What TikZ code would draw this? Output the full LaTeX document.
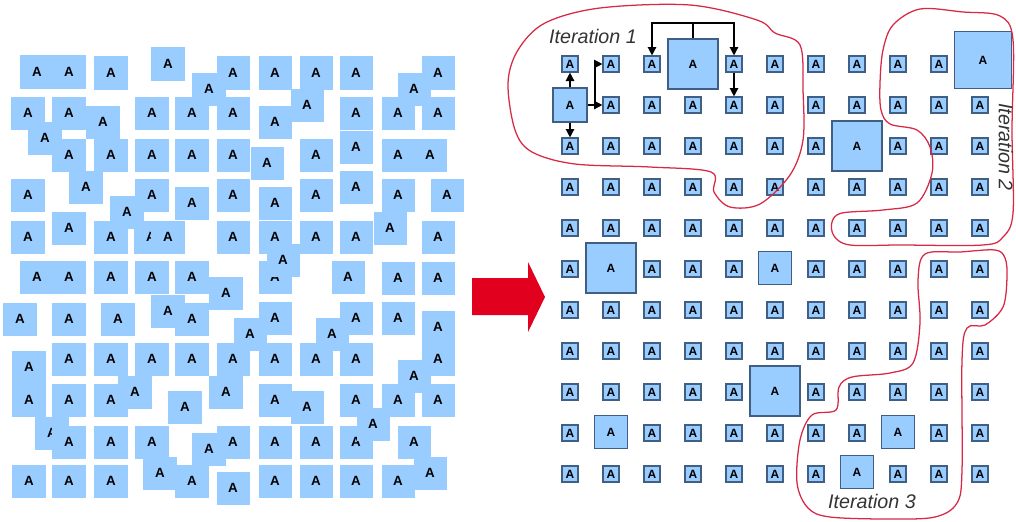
\documentclass[tikz,border=0pt]{standalone}
\usepackage{fontspec}
\setmainfont{Liberation Sans}
\usetikzlibrary{arrows.meta, calc}

\definecolor{tileblue}{RGB}{153,204,255}
\definecolor{tileedge}{RGB}{65,95,130}
\definecolor{loopred}{RGB}{215,40,70}
\definecolor{arrowred}{RGB}{225,0,30}

% cells of the grid that hold a bigger box
\newcommand{\markbig}[2]{\expandafter\def\csname bigcell-#1-#2\endcsname{}}
\markbig{0}{1}\markbig{3}{0}\markbig{10}{0}\markbig{7}{2}\markbig{1}{5}
\markbig{5}{5}\markbig{5}{8}\markbig{1}{9}\markbig{8}{9}\markbig{7}{10}

\begin{document}
\begin{tikzpicture}[x=0.025cm, y=-0.025cm,
    tile/.style={rectangle, fill=tileblue, minimum size=0.825cm, inner sep=0pt, font=\fontsize{9.5}{9.5}\selectfont\bfseries},
    cell/.style={rectangle, fill=tileblue, draw=tileedge, line width=0.8pt, minimum size=0.4cm, inner sep=0pt, font=\fontsize{8.5}{8.5}\selectfont\bfseries},
    bigcell/.style={cell, minimum size=#1},
    iterline/.style={draw=loopred, line width=0.9pt},
    itlabel/.style={font=\fontsize{14}{14}\selectfont\itshape, text=black!80},
    arrow/.style={line width=1pt, -{Triangle[length=6pt, width=6pt]}}
]
\useasboundingbox (0,0) rectangle (1016,521);

% scattered tiles
\foreach \x/\y [count=\n] in {37/72, 69/72, 111/73, 168/64, 209/89, 233/73, 275/73, 316/73, 356/73, 414/89, 438/73, 307/105,
    28/113, 69/113, 103/122, 45/138, 152/113, 192/113, 233/113, 275/122, 356/113, 356/147, 398/113, 438/113,
    69/155, 111/155, 152/155, 192/155, 233/155, 267/163, 316/155, 398/155, 430/155, 86/187,
    28/195, 152/195, 192/203, 233/195, 127/212, 275/203, 316/195, 356/187, 398/195, 447/195,
    28/237, 69/228, 111/237, 151/237, 168/237, 233/237, 275/237, 316/237, 356/237, 390/228, 438/237,
    37/277, 69/277, 111/277, 152/277, 192/277, 226/293, 275/277, 283/260, 348/277, 398/278, 438/278,
    20/319, 69/319, 118/319, 168/311, 192/319, 250/334, 275/318, 332/334, 356/318, 398/318, 438/327,
    29/367, 29/400, 69/359, 111/359, 152/359, 192/359, 233/359, 275/359, 316/359, 356/359, 438/359, 414/376, 135/392, 185/407, 226/392,
    69/400, 111/400, 275/400, 307/407, 356/400, 398/400, 438/400,
    52/433, 69/442, 111/442, 152/442, 160/473, 209/449, 233/442, 275/442, 316/442, 356/442, 373/424, 414/442, 430/473,
    29/481, 69/481, 111/481, 192/481, 233/488, 275/481, 316/481, 356/481, 398/481}
    \node[tile] (t-\n) at (\x,\y) {A};

% red arrow
\fill[arrowred] (472,278) -- (528,278) -- (528,262) -- (545,297) -- (528,332) -- (528,315) -- (472,315) -- cycle;

% regular grid
\foreach \i in {0,...,10}
  \foreach \j in {0,...,10}{
    \ifcsname bigcell-\i-\j\endcsname\else
      \node[cell] (g-\i-\j) at ({570+41*\i},{64+41*\j}) {A};
    \fi
  }
\node[bigcell=0.85cm] (g-0-1) at (570,105) {A};
\node[bigcell=1.25cm] (g-3-0) at (693,64) {A};
\node[bigcell=1.42cm] (g-10-0) at (983,60) {A};
\node[bigcell=1.25cm] (g-7-2) at (857,146) {A};
\node[bigcell=1.25cm] (g-1-5) at (611,268) {A};
\node[bigcell=0.83cm] (g-5-5) at (775,268) {A};
\node[bigcell=1.25cm] (g-5-8) at (775,391) {A};
\node[bigcell=0.83cm] (g-1-9) at (611,432) {A};
\node[bigcell=0.83cm] (g-8-9) at (898,432) {A};
\node[bigcell=0.83cm] (g-7-10) at (857,472) {A};

% first iteration messages
\draw[arrow] (g-0-1) -- (g-0-0);
\draw[arrow] (g-0-1) -- (g-0-2);
\draw[arrow] (g-0-1) -- (g-1-1);
\coordinate (fork) at (595,105);
\draw[arrow] (fork) |- (g-1-0.west);
\coordinate (hub) at (693,23);
\draw[line width=1pt] (g-3-0.north) -- (hub);
\draw[arrow] (hub) -| (g-2-0.north);
\draw[arrow] (hub) -| (g-4-0.north);
\draw[arrow] (g-4-0) -- (g-4-1);

% iteration regions
\draw[iterline] plot[smooth cycle, tension=0.55] coordinates {(690,5) (757,20) (775,33) (800,45) (803,90) (803,140) (790,175) (760,204) (730,207) (714,192) (711,172) (650,167) (575,164) (532,152) (515,130) (508,83) (518,50) (545,23) (600,8)};
\draw[iterline] plot[smooth cycle, tension=0.55] coordinates {(893,25) (920,9) (963,12) (1000,16) (1013,40) (1012,130) (1013,213) (1003,237) (983,245) (900,245) (850,245) (834,236) (832,222) (842,213) (883,210) (917,203) (932,173) (930,147) (917,130) (890,124) (881,110) (880,83) (883,50)};
\draw[iterline] plot[smooth cycle, tension=0.55] coordinates {(925,254) (960,252) (995,250) (1005,258) (1007,277) (1003,307) (985,325) (967,328) (962,360) (962,470) (957,503) (935,517) (890,519) (830,517) (808,508) (797,483) (800,440) (812,415) (836,410) (839,387) (852,377) (890,373) (913,363) (920,323) (918,280)};

\node[itlabel] (it-1) at (593,36) {Iteration 1};
\node[itlabel, rotate=-90] (it-2) at (1006,147) {Iteration 2};
\node[itlabel] (it-3) at (872,501) {Iteration 3};
\end{tikzpicture}
\end{document}
